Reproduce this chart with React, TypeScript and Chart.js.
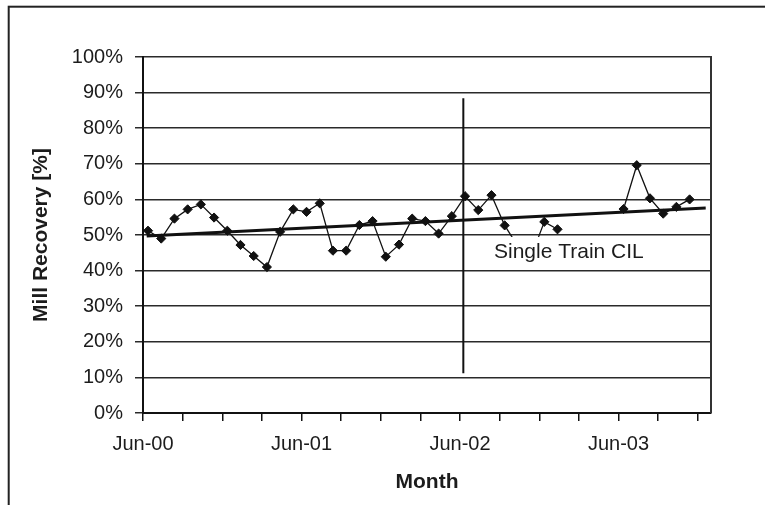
import React, { useEffect, useRef } from "react";
import { Chart, registerables } from "chart.js";

Chart.register(...registerables);

// Month axis: 0 = June 2000, one unit per month
const tickMonths = [0, 3, 6, 9, 12, 15, 18, 21, 24, 27, 30, 33, 36, 39, 42];
const monthLabels: Record<number, string> = {
  0: "Jun-00",
  12: "Jun-01",
  24: "Jun-02",
  36: "Jun-03",
};
const axisMaxMonth = 43;

// Monthly mill recovery (%), first sample in June 2000; null = no data
const sampleDayOffset = 0.38; // samples fall part-way into each month
const recovery: (number | null)[] = [
  51.2, 49.0, 54.6, 57.2, 58.6, 54.9, 51.2, 47.2, 44.1, 41.0,
  50.9, 57.2, 56.5, 58.9, 45.6, 45.6, 52.8, 53.9, 43.9, 47.3,
  54.6, 53.9, 50.4, 55.3, 60.9, 57.0, 61.2, 52.7, 46.8, 44.0,
  53.7, 51.6, null, null, null, null, 57.3, 69.6, 60.3, 56.0,
  57.9, 60.0,
];

// Linear trend over the whole period
const trendMonths = [0.28, 42.6];
const trendValues = [49.7, 57.6];

// Change-over to the single train CIL circuit
const changeMonth = 24.25;
const changeRange = [11.2, 88.4];
const noteText = "Single Train CIL";
const noteMonth = 26.57;
const noteValue = 45.1;

const yTicks = { min: 0, max: 100, step: 10 };

const FONT = "'Liberation Sans', Arial, Helvetica, sans-serif";
const INK = "#1c1c1c";

const framePlugin = {
  id: "outerFrame",
  beforeDraw(chart: any) {
    const ctx = chart.ctx;
    ctx.save();
    ctx.strokeStyle = "#222";
    ctx.lineWidth = 2;
    ctx.strokeRect(8.7, 6.7, chart.width + 60, chart.height + 60);
    ctx.restore();
  },
  afterDraw(chart: any) {
    const { ctx, chartArea } = chart;
    ctx.save();
    ctx.strokeStyle = "#333";
    ctx.lineWidth = 2;
    ctx.beginPath();
    ctx.moveTo(chartArea.right, chartArea.top - 1);
    ctx.lineTo(chartArea.right, chartArea.bottom);
    ctx.stroke();
    ctx.restore();
  },
};

const notePlugin = {
  id: "changeNote",
  afterDatasetsDraw(chart: any) {
    const { ctx, scales } = chart;
    const x = scales.x.getPixelForValue(noteMonth);
    const y = scales.y.getPixelForValue(noteValue);
    ctx.save();
    ctx.font = `21px ${FONT}`;
    const w = ctx.measureText(noteText).width;
    ctx.fillStyle = "#ffffff";
    ctx.fillRect(x - 5, y - 15.5, w + 10, 31);
    ctx.fillStyle = INK;
    ctx.textAlign = "left";
    ctx.textBaseline = "middle";
    ctx.fillText(noteText, x, y);
    ctx.restore();
  },
};

export default function App() {
  const canvasRef = useRef<HTMLCanvasElement | null>(null);

  useEffect(() => {
    const canvas = canvasRef.current;
    if (!canvas) return;

    const recoveryPoints = recovery.map((v, i) => ({ x: i + sampleDayOffset, y: v }));
    const trendPoints = trendMonths.map((m, i) => ({ x: m, y: trendValues[i] }));
    const changePoints = changeRange.map((v) => ({ x: changeMonth, y: v }));

    const chart = new Chart(canvas, {
      type: "line",
      data: {
        datasets: [
          {
            label: "Mill recovery",
            data: recoveryPoints as any,
            borderColor: "#111",
            borderWidth: 1.3,
            backgroundColor: "#111",
            pointStyle: "rectRot",
            pointRadius: 4.6,
            pointBorderWidth: 1,
            pointBorderColor: "#111",
            pointBackgroundColor: "#111",
            spanGaps: false,
            tension: 0,
            order: 0,
          },
          {
            label: "Trend",
            data: trendPoints as any,
            borderColor: "#111",
            borderWidth: 3,
            pointRadius: 0,
            tension: 0,
            order: 1,
          },
          {
            label: "Single Train CIL",
            data: changePoints as any,
            borderColor: "#111",
            borderWidth: 2,
            pointRadius: 0,
            order: 2,
          },
        ],
      },
      options: {
        animation: false,
        responsive: false,
        devicePixelRatio: 1,
        layout: { padding: { left: 0, top: 57, right: 54, bottom: 0 } },
        plugins: {
          legend: { display: false },
          tooltip: { enabled: false },
        },
        scales: {
          x: {
            type: "linear",
            min: 0,
            max: axisMaxMonth,
            afterBuildTicks: (scale: any) => {
              scale.ticks = tickMonths.map((v) => ({ value: v }));
            },
            afterFit: (scale: any) => {
              scale.height = 92;
            },
            ticks: {
              autoSkip: false,
              maxRotation: 0,
              minRotation: 0,
              padding: 11,
              color: INK,
              font: { family: FONT, size: 20 },
              callback: (v: any) => monthLabels[Number(v)] ?? "",
            },
            grid: {
              drawOnChartArea: false,
              drawTicks: true,
              tickLength: 8,
              color: "#111",
              lineWidth: 1.5,
            },
            border: { display: true, color: "#111", width: 2 },
            title: {
              display: true,
              text: "Month",
              color: INK,
              font: { family: FONT, size: 21, weight: "bold" },
              padding: { top: 0, bottom: 10 },
            },
          },
          y: {
            type: "linear",
            min: yTicks.min,
            max: yTicks.max,
            afterFit: (scale: any) => {
              scale.width = 143;
            },
            ticks: {
              stepSize: yTicks.step,
              padding: 12,
              color: INK,
              font: { family: FONT, size: 20 },
              callback: (v: any) => `${v}%`,
            },
            grid: {
              drawOnChartArea: true,
              drawTicks: true,
              tickLength: 8,
              color: "#2a2a2a",
              lineWidth: 1.5,
            },
            border: { display: true, color: "#111", width: 2 },
            title: {
              display: true,
              text: "Mill Recovery [%]",
              color: INK,
              font: { family: FONT, size: 21, weight: "bold" },
              padding: { top: 29, bottom: 0 },
            },
          },
        },
      },
      plugins: [framePlugin, notePlugin],
    });

    return () => chart.destroy();
  }, []);

  return (
    <div style={{ position: "fixed", left: 0, top: 0, width: 765, height: 505, background: "#fff" }}>
      <canvas ref={canvasRef} width={765} height={505} style={{ display: "block" }} />
    </div>
  );
}
